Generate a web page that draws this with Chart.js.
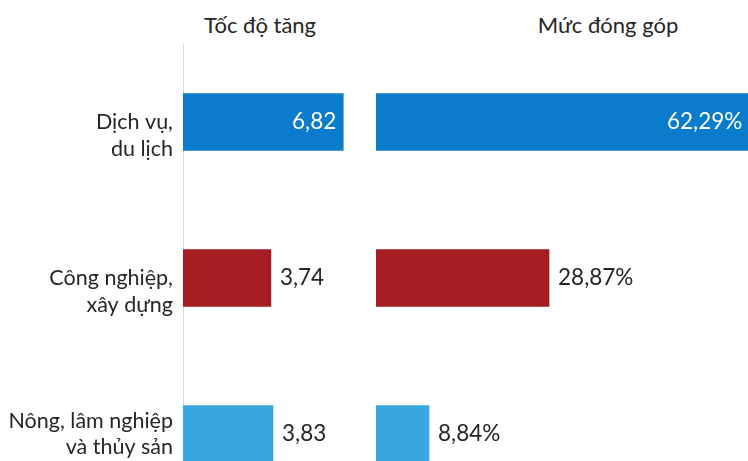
<!DOCTYPE html>
<html>
<head>
<meta charset="utf-8">
<script src="https://cdn.jsdelivr.net/npm/chart.js@4/dist/chart.umd.min.js"></script>
<style>
  html, body { margin: 0; padding: 0; width: 748px; height: 461px; overflow: hidden; background: #fff; }
  .box { position: absolute; top: 0; }
  .ttl { position: absolute; font-family: Lato, sans-serif; font-size: 22px; color: #262626; white-space: nowrap; transform: translateX(-50%); }
</style>
</head>
<body>
<div class="ttl" id="t1" style="left:260px; top:11px;"></div>
<div class="ttl" id="t2" style="left:608px; top:11px;"></div>
<div class="box" style="left:0; width:371px; height:520px;"><canvas id="c1" width="371" height="520"></canvas></div>
<div class="box" style="left:376px; width:380px; height:520px;"><canvas id="c2" width="380" height="520"></canvas></div>
<script>
const panelTitles = ['Tốc độ tăng', 'Mức đóng góp'];
const categories = [['Dịch vụ,', 'du lịch'], ['Công nghiệp,', 'xây dựng'], ['Nông, lâm nghiệp', 'và thủy sản']];
const growthRate = [6.82, 3.74, 3.83];
const contribution = [62.29, 28.87, 8.84];
const barColors = ['#0A7CCB', '#A51D22', '#3AA8E0'];

document.getElementById('t1').textContent = panelTitles[0];
document.getElementById('t2').textContent = panelTitles[1];

const FONT = 'Lato, sans-serif';

function fmt(v, suffix) { return v.toFixed(2).replace('.', ',') + suffix; }

const valueLabels = {
  id: 'valueLabels',
  afterDatasetsDraw(chart, args, opts) {
    const ctx = chart.ctx;
    const meta = chart.getDatasetMeta(0);
    const data = chart.data.datasets[0].data;
    const top = Math.max.apply(null, data);
    ctx.save();
    ctx.font = '22.5px ' + FONT;
    ctx.textBaseline = 'middle';
    meta.data.forEach((bar, i) => {
      const txt = fmt(data[i], opts.suffix);
      if (data[i] === top) {
        ctx.fillStyle = '#ffffff';
        ctx.textAlign = 'right';
        ctx.fillText(txt, Math.min(bar.x, chart.width) - 7, bar.y);
      } else {
        ctx.fillStyle = '#262626';
        ctx.textAlign = 'left';
        ctx.fillText(txt, bar.x + 9, bar.y);
      }
    });
    ctx.restore();
  }
};

function makeChart(id, values, max, showY, suffix) {
  return new Chart(document.getElementById(id), {
    type: 'bar',
    data: {
      labels: categories,
      datasets: [{ data: values, backgroundColor: barColors, barThickness: 57, borderWidth: 0 }]
    },
    options: {
      indexAxis: 'y',
      responsive: false,
      animation: false,
      devicePixelRatio: 1,
      layout: { padding: { top: 44, bottom: 8, left: 0, right: 0 } },
      plugins: { legend: { display: false }, tooltip: { enabled: false }, title: { display: false }, valueLabels: { suffix } },
      scales: {
        x: { display: false, min: 0, max: max },
        y: {
          display: showY,
          grid: { display: false, drawTicks: false },
          border: { display: true, color: '#D9D9D9', width: 1 },
          ticks: {
            color: '#262626',
            font: { family: FONT, size: 21.5, lineHeight: 1.25 },
            padding: 10,
            callback: function (val, idx) {
              const lines = categories[idx];
              return idx < 2 ? [''].concat(lines) : lines;
            }
          },
          afterFit(scale) {
            if (showY) { scale.width = 183; }
            scale.paddingTop = 0;
            scale.paddingBottom = 0;
          }
        }
      }
    },
    plugins: [valueLabels]
  });
}

makeChart('c1', growthRate, 8, true, '');
makeChart('c2', contribution, 63.4, false, '%');
</script>
</body>
</html>
